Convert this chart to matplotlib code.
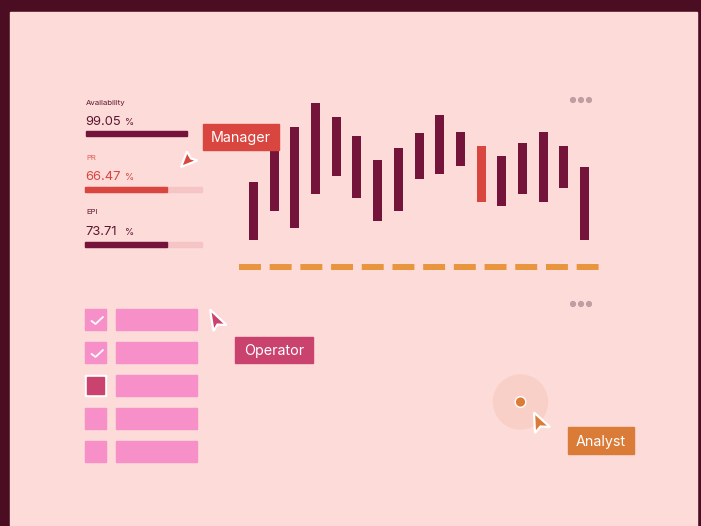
import matplotlib.pyplot as plt
from matplotlib.patches import Rectangle, Polygon, Circle

plt.rcParams['font.family'] = ['Inter', 'DejaVu Sans']

# colours
BORDER = '#4a0d21'
BG = '#fddbd9'
WINE = '#75143a'
RED = '#d9463f'
ORANGE = '#e8953d'
ANALYST = '#db7b38'
PINK = '#f78fc8'
MAGENTA = '#c9436e'
TRACK = '#f5c4c4'
DOTS = '#bf9ea3'

# floating bars (height above the dashed baseline)
bar_high = [85, 127, 140, 164, 150, 131, 107, 119, 134, 152, 135, 121, 111, 124, 135, 121, 100]
bar_low = [27, 56, 39, 73, 91, 69, 46, 56, 88, 93, 101, 65, 61, 73, 65, 79, 27]
highlight = 11

# KPI panel
kpi_names = ['Availability', 'PR', 'EPI']
kpi_values = ['99.05', '66.47', '73.71']
kpi_fill = [86, 70, 70]          # filled share of the track, %
kpi_track = [False, True, True]

# checklist
check_state = ['checked', 'checked', 'selected', 'empty', 'empty']

fig = plt.figure(figsize=(7.01, 5.26), dpi=100)
fig.patch.set_facecolor(BORDER)


def px_axes(zorder):
    ax = fig.add_axes([0, 0, 1, 1], zorder=zorder)
    ax.set_xlim(0, 701)
    ax.set_ylim(526, 0)
    ax.axis('off')
    ax.patch.set_alpha(0)
    return ax


bg = px_axes(0)
bg.add_patch(Rectangle((10, 12), 687, 520, color=BG))

# bar chart
ax = fig.add_axes([239 / 701, (526 - 275) / 526, 360 / 701, 180 / 526], zorder=1)
ax.patch.set_alpha(0)
ax.axis('off')
xs = range(len(bar_high))
colors = [RED if i == highlight else WINE for i in xs]
ax.bar(xs, [h - l for h, l in zip(bar_high, bar_low)], bottom=bar_low,
       width=0.435, color=colors)
ax.axhline(0, color=ORANGE, lw=4.3, linestyle=(0, (3.67, 1.47)),
           solid_capstyle='butt', dash_capstyle='butt')
ax.set_xlim(-0.7, 16.7)
ax.set_ylim(-8, 172)

top = px_axes(2)

# menu dots
for cy in (100, 304):
    for k in range(3):
        top.add_patch(Circle((573 + 8 * k, cy), 2.4, color=DOTS))

# KPI panel
for i, (name, val) in enumerate(zip(kpi_names, kpi_values)):
    y0 = 102 + i * 55
    col = RED if name == 'PR' else '#5c1730'
    lab = '#e0605a' if name == 'PR' else '#5c1730'
    top.text(86, y0 + 2.5, name, fontsize=5.6, color=lab, va='baseline')
    top.text(85, y0 + 23, val, fontsize=9.3, color=col, va='baseline')
    top.text(125.5, y0 + 23, '%', fontsize=6.8, color=col, va='baseline')
    by = 131 if i == 0 else y0 + 30
    if kpi_track[i]:
        top.add_patch(Rectangle((85, by), 117, 4.5, color=TRACK))
    top.add_patch(Rectangle((86 if i == 0 else 85, by), 117 * kpi_fill[i] / 100, 4.5,
                            color=RED if name == 'PR' else WINE))

# checklist
for i, st in enumerate(check_state):
    y0 = 309 + i * 33
    top.add_patch(Rectangle((116, y0), 81, 21, color=PINK))
    if st == 'selected':
        top.add_patch(Rectangle((85, y0), 21, 21, color='white'))
        top.add_patch(Rectangle((87, y0 + 2), 17, 17, color=MAGENTA))
    else:
        top.add_patch(Rectangle((85, y0), 21, 21, color=PINK))
    if st == 'checked':
        top.plot([91, 95.5, 103.5], [y0 + 11.5, y0 + 15, y0 + 7.5],
                 color='white', lw=1.3, solid_capstyle='butt')


def cursor(pts, color):
    top.add_patch(Polygon(pts, closed=True, facecolor=color, edgecolor='white',
                          lw=1.6, joinstyle='miter'))


def tag(x, y, w, h, text, color):
    top.add_patch(Rectangle((x, y), w, h, color=color))
    top.text(x + w / 2, y + h / 2 + 5.2, text, color='white', fontsize=10.3,
             ha='center', va='baseline')


# Manager
cursor([(181, 167), (187, 151.5), (191, 158.5), (197.5, 160.5)], RED)
tag(203, 124, 76, 26, 'Manager', RED)

# Operator
cursor([(210, 309.5), (226.5, 325), (217.5, 324.5), (213.5, 331)], MAGENTA)
tag(235, 337, 78, 26, 'Operator', MAGENTA)

# Analyst
top.add_patch(Circle((520.5, 402), 27, color='#f8d0c8'))
top.add_patch(Circle((520.5, 402), 5.3, facecolor=ANALYST, edgecolor='white', lw=1))
cursor([(534, 412.5), (550, 427), (540.5, 426.5), (535, 433)], ANALYST)
tag(568, 427, 66, 27, 'Analyst', ANALYST)

fig.savefig('out.png', dpi=100, facecolor=BORDER)
